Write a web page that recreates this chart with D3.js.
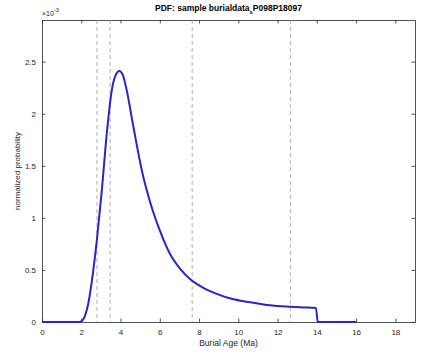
<!DOCTYPE html>
<html>
<head>
<meta charset="utf-8">
<script src="https://cdn.jsdelivr.net/npm/d3@7"></script>
<style>
  body { margin: 0; background: #fff; }
  svg { display: block; font-family: "Liberation Sans", Arial, sans-serif; }
</style>
</head>
<body>
<div id="chart"></div>
<script>
// Burial age PDF (probability in units of 1e-3)
const ageMa = [0, 1.9, 2.0, 2.19, 2.35, 2.53, 2.79, 3.04, 3.30, 3.55, 3.75, 3.94, 4.12, 4.32, 4.66, 5.08, 5.51,
  6.02, 6.53, 7.04, 7.55, 8.2, 8.9, 9.7, 10.6, 11.6, 12.65, 13.3, 13.95, 14.05, 16];
const pdfVals = [0, 0, 0.005, 0.06, 0.17, 0.38, 0.78, 1.25, 1.81, 2.22, 2.37, 2.41, 2.37, 2.22, 1.87, 1.46, 1.15,
  0.87, 0.65, 0.51, 0.41, 0.33, 0.27, 0.22, 0.19, 0.16, 0.146, 0.14, 0.135, 0, 0];
const markerAges = [2.8, 3.47, 7.65, 12.65];
const xTicks = [0, 2, 4, 6, 8, 10, 12, 14, 16, 18];
const yTicks = [0, 0.5, 1, 1.5, 2, 2.5];

const width = 425, height = 356;
const margin = { top: 20, right: 10, bottom: 34, left: 42 };
const innerW = width - margin.left - margin.right;
const innerH = height - margin.top - margin.bottom;
const axisColor = '#262626';

const svg = d3.select('#chart')
  .append('svg')
    .attr('width', width)
    .attr('height', height);

const g = svg.append('g')
  .attr('transform', 'translate(' + margin.left + ',' + margin.top + ')');

const x = d3.scaleLinear().domain([0, 19]).range([0, innerW]);
const y = d3.scaleLinear().domain([0, 2.9]).range([innerH, 0]);

// Axes with inward ticks (box on)
const styleAxis = (sel) => {
  sel.selectAll('path').attr('stroke', axisColor).attr('stroke-width', 0.8);
  sel.selectAll('line').attr('stroke', axisColor).attr('stroke-width', 0.8);
  sel.selectAll('text').attr('fill', axisColor).attr('font-size', 8);
};

g.append('g')
  .attr('transform', 'translate(0,' + innerH + ')')
  .call(d3.axisBottom(x).tickValues(xTicks).tickSizeInner(-3.5).tickSizeOuter(0).tickPadding(7).tickFormat(d3.format('d')))
  .call(styleAxis);

g.append('g')
  .call(d3.axisTop(x).tickValues(xTicks).tickSizeInner(-3.5).tickSizeOuter(0).tickFormat(''))
  .call(styleAxis);

g.append('g')
  .call(d3.axisLeft(y).tickValues(yTicks).tickSizeInner(-3.5).tickSizeOuter(0).tickPadding(6).tickFormat(d => d === 0 ? '0' : String(d)))
  .call(styleAxis);

g.append('g')
  .attr('transform', 'translate(' + innerW + ',0)')
  .call(d3.axisRight(y).tickValues(yTicks).tickSizeInner(-3.5).tickSizeOuter(0).tickFormat(''))
  .call(styleAxis);

// Vertical dashed reference lines
g.selectAll('line.marker')
  .data(markerAges)
  .join('line')
    .attr('class', 'marker')
    .attr('x1', d => x(d))
    .attr('x2', d => x(d))
    .attr('y1', 0)
    .attr('y2', innerH)
    .attr('stroke', '#9a9a9a')
    .attr('stroke-width', 0.8)
    .attr('stroke-dasharray', '4,3');

// PDF curve
const points = ageMa.map((a, i) => ({ x: a, y: pdfVals[i] }));
g.append('path')
  .datum(points)
  .attr('fill', 'none')
  .attr('stroke', '#2626cc')
  .attr('stroke-width', 2)
  .attr('stroke-linejoin', 'round')
  .attr('d', d3.line()
    .x(d => x(d.x))
    .y(d => y(d.y))
    .curve(d3.curveMonotoneX)
  );

// Exponent label
const expo = svg.append('text')
  .attr('x', margin.left)
  .attr('y', margin.top - 4)
  .attr('font-size', 7)
  .attr('fill', axisColor);
expo.append('tspan').text('\u00d710');
expo.append('tspan').attr('dy', -4).attr('font-size', 5.5).text('-3');

// Title
const title = svg.append('text')
  .attr('x', margin.left + innerW / 2)
  .attr('y', 11)
  .attr('text-anchor', 'middle')
  .attr('font-size', 8.5)
  .attr('font-weight', 'bold')
  .attr('fill', '#000');
title.append('tspan').text('PDF: sample burialdata');
title.append('tspan').attr('dy', 2.5).attr('font-size', 6).text('s');
title.append('tspan').attr('dy', -2.5).text('P098P18097');

// Axis labels
svg.append('text')
  .attr('x', margin.left + innerW / 2)
  .attr('y', height - 10)
  .attr('text-anchor', 'middle')
  .attr('font-size', 8.5)
  .attr('fill', axisColor)
  .text('Burial Age (Ma)');

svg.append('text')
  .attr('transform', 'translate(20,' + (margin.top + innerH / 2) + ') rotate(-90)')
  .attr('text-anchor', 'middle')
  .attr('font-size', 8)
  .attr('fill', axisColor)
  .text('normalized probability');
</script>
</body>
</html>
